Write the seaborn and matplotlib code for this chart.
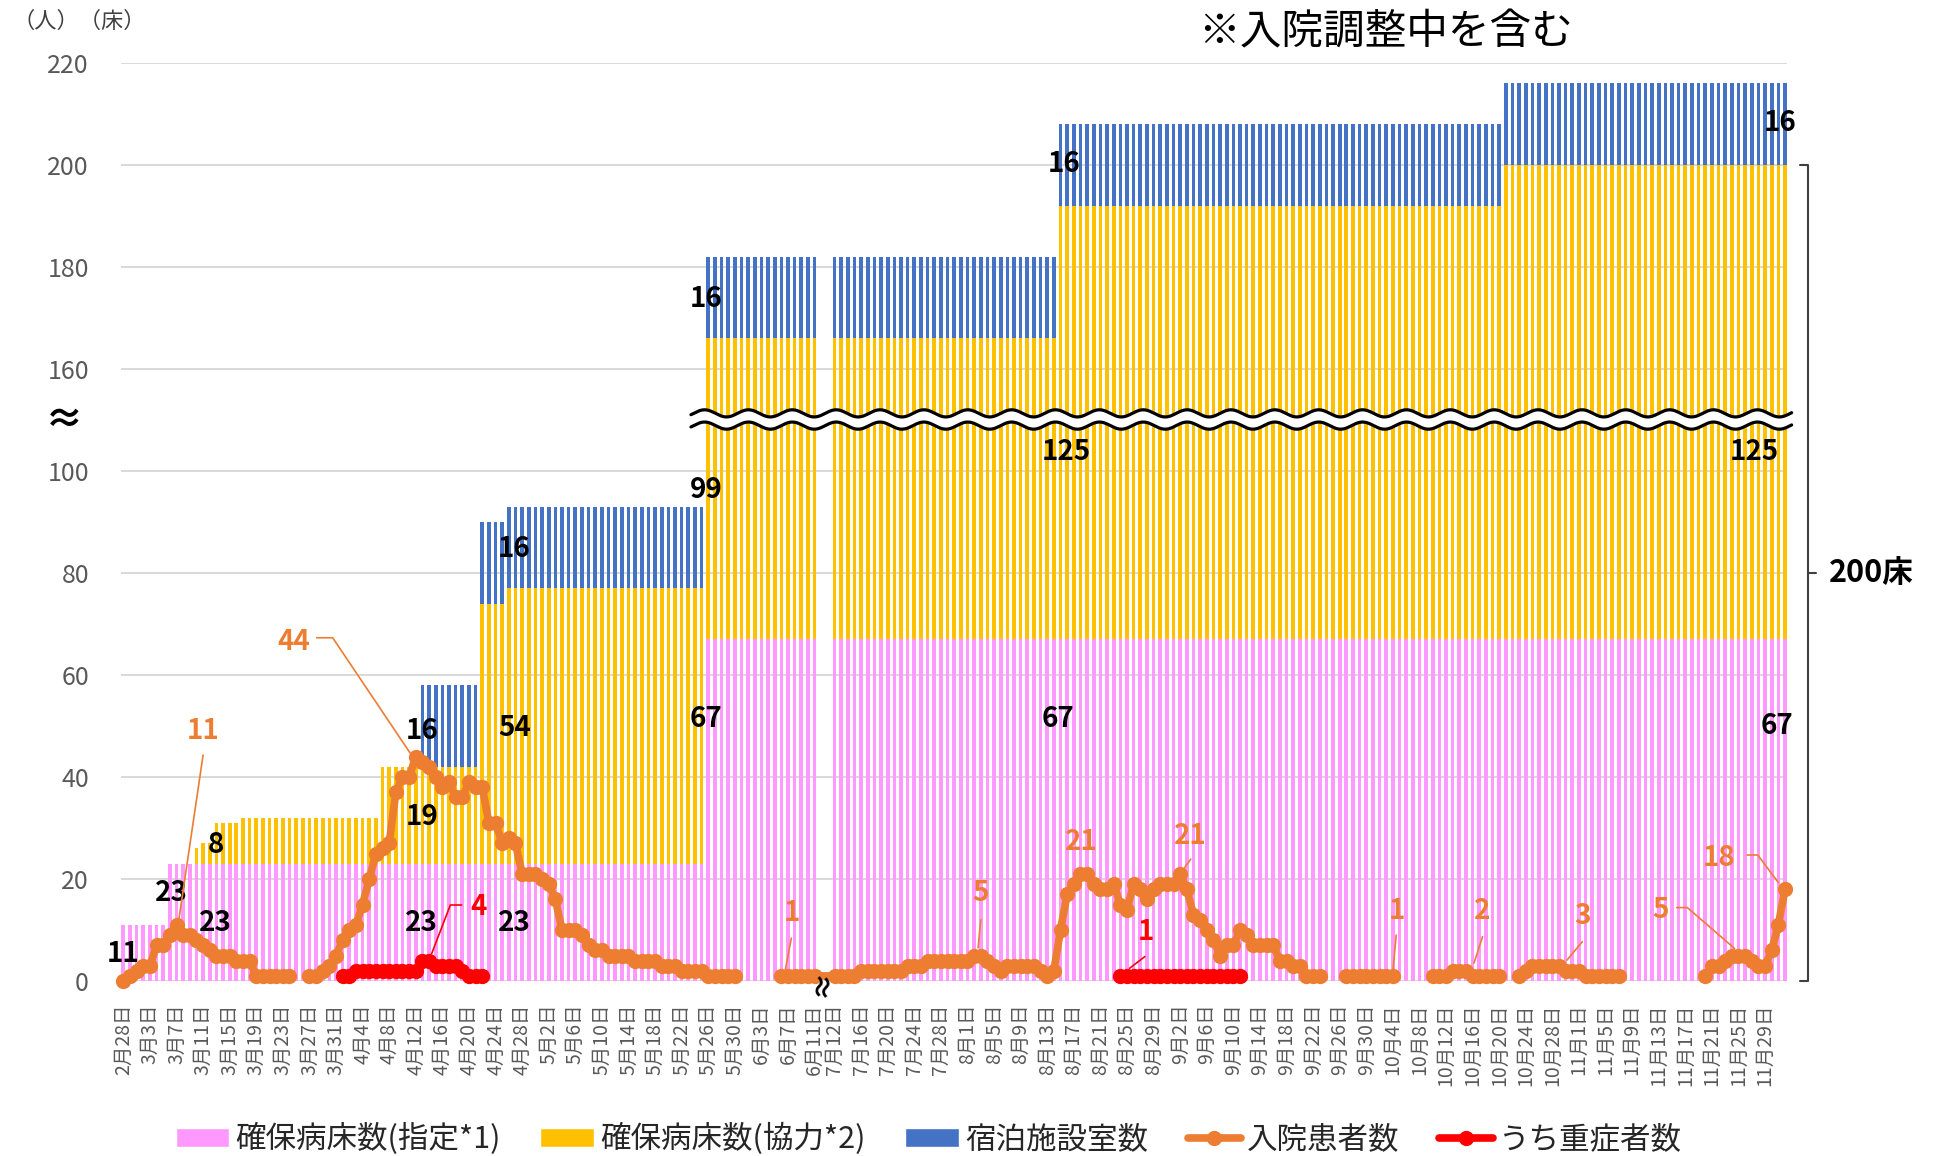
import numpy as np
import pandas as pd
import matplotlib
matplotlib.use("Agg")
import matplotlib.pyplot as plt
import seaborn as sns
from matplotlib.patches import Patch
from matplotlib.lines import Line2D

# ---------------------------------------------------------------- data
SECTION1 = ("2020-02-28", "2020-06-11")
SECTION2 = ("2020-07-12", "2020-12-02")
GAP_SLOTS = 2  # empty slots shown between the two date ranges (≈)

# step changes (date, count)
PINK_STEPS = [("2020-02-28", 11), ("2020-03-06", 23), ("2020-05-26", 67)]
YELLOW_STEPS = [("2020-02-28", 0), ("2020-03-10", 3), ("2020-03-11", 4),
                ("2020-03-13", 8), ("2020-03-17", 9), ("2020-04-07", 19),
                ("2020-04-22", 51), ("2020-04-26", 54), ("2020-05-26", 99),
                ("2020-08-15", 125), ("2020-10-21", 133)]
BLUE_STEPS = [("2020-02-28", 0), ("2020-04-13", 16)]

N = None
INPATIENTS_1 = [0, 1, 2, 3, 3, 7, 7, 9, 11, 9,
                9, 8, 7, 6, 5, 5, 5, 4, 4, 4,
                1, 1, 1, 1, 1, 1, N, N, 1, 1,
                2, 3, 5, 8, 10, 11, 15, 20, 25, 26,
                27, 37, 40, 40, 44, 43, 42, 40, 38, 39,
                36, 36, 39, 38, 38, 31, 31, 27, 28, 27,
                21, 21, 21, 20, 19, 16, 10, 10, 10, 9,
                7, 6, 6, 5, 5, 5, 5, 4, 4, 4,
                4, 3, 3, 3, 2, 2, 2, 2, 1, 1,
                1, 1, 1, N, N, N, N, N, N, 1,
                1, 1, 1, 1, 1]
INPATIENTS_2 = [1, 1, 1, 1, 2, 2, 2, 2, 2, 2,
                2, 3, 3, 3, 4, 4, 4, 4, 4, 4,
                4, 5, 5, 4, 3, 2, 3, 3, 3, 3,
                3, 2, 1, 2, 10, 17, 19, 21, 21, 19,
                18, 18, 19, 15, 14, 19, 18, 16, 18, 19,
                19, 19, 21, 18, 13, 12, 10, 8, 5, 7,
                7, 10, 9, 7, 7, 7, 7, 4, 4, 3,
                3, 1, 1, 1, N, N, N, 1, 1, 1,
                1, 1, 1, 1, 1, N, N, N, N, N,
                1, 1, 1, 2, 2, 2, 1, 1, 1, 1,
                1, N, N, 1, 2, 3, 3, 3, 3, 3,
                2, 2, 2, 1, 1, 1, 1, 1, 1, N,
                N, N, N, N, N, N, N, N, N, N,
                N, 1, 3, 3, 4, 5, 5, 5, 4, 3,
                3, 6, 11, 18]
SEVERE_1_START = "2020-04-01"
SEVERE_1 = [1, 1, 2, 2, 2, 2, 2, 2, 2, 2, 2, 2, 4, 4, 3, 3, 3, 3, 2, 1, 1, 1]
SEVERE_2_START = "2020-08-24"
SEVERE_2 = [1, 1, 1, 1, 1, 1, 1, 1, 1, 1, 1, 1, 1, 1, 1, 1, 1, 1, 1]

Y_TICK_VALUES = [0, 20, 40, 60, 80, 100, 160, 180, 200, 220]
BREAK_AT, BREAK_SHIFT = 110, 40

LEGEND_LABELS = ["確保病床数(指定*1)", "確保病床数(協力*2)", "宿泊施設室数", "入院患者数", "うち重症者数"]

PINK, YELLOW, BLUE = "#FF99FF", "#FFC000", "#4472C4"
ORANGE, RED = "#ED7D31", "#FF0000"

# ---------------------------------------------------------------- style
sns.set_style("white")
plt.rcParams["font.family"] = ["Noto Sans CJK JP", "DejaVu Sans"]


def brk(v):
    v = np.asarray(v, dtype=float)
    return np.where(v > BREAK_AT, v - BREAK_SHIFT, v)


def build_days(start, end, offset):
    d = pd.date_range(start, end, freq="D")
    return pd.DataFrame({"date": d, "x": offset + np.arange(len(d))})


days1 = build_days(*SECTION1, 0)
days2 = build_days(*SECTION2, len(days1) + GAP_SLOTS)
days = pd.concat([days1, days2], ignore_index=True)


def steps_to_series(steps):
    s = pd.Series({pd.Timestamp(d): v for d, v in steps}).sort_index()
    return s.reindex(days["date"], method="ffill").to_numpy(dtype=float)


days["pink"] = steps_to_series(PINK_STEPS)
days["yellow"] = steps_to_series(YELLOW_STEPS)
days["blue"] = steps_to_series(BLUE_STEPS)
days["inpatient"] = pd.array(INPATIENTS_1 + INPATIENTS_2, dtype="Float64").astype(float)


def sparse_series(start, vals):
    idx = pd.date_range(start, periods=len(vals), freq="D")
    s = pd.Series(vals, index=idx, dtype=float)
    return s.reindex(days["date"]).to_numpy()


sev1 = sparse_series(SEVERE_1_START, SEVERE_1)
sev2 = sparse_series(SEVERE_2_START, SEVERE_2)
days["severe"] = np.where(np.isnan(sev1), sev2, sev1)

days["top_pink"] = brk(days["pink"])
days["top_yellow"] = brk(days["pink"] + days["yellow"])
days["top_blue"] = brk(days["pink"] + days["yellow"] + days["blue"])

# ---------------------------------------------------------------- figure
fig = plt.figure(figsize=(19.35, 11.56), dpi=100)
ax = fig.add_axes([121 / 1935, 1 - 981 / 1156, 1666 / 1935, 918 / 1156])

bar_kw = dict(x="x", native_scale=True, orient="x", width=0.55, saturation=1,
              errorbar=None, linewidth=0, ax=ax)
sns.barplot(data=days[days["blue"] > 0], y="top_blue", color=BLUE, **bar_kw)
sns.barplot(data=days[days["yellow"] > 0], y="top_yellow", color=YELLOW, **bar_kw)
sns.barplot(data=days, y="top_pink", color=PINK, **bar_kw)

LINE_W, MARK_S = 5.5, 11


def draw_line(col, color):
    d = days[["x", col]].copy()
    d["seg"] = d[col].isna().cumsum()
    d = d.dropna()
    sns.lineplot(data=d, x="x", y=col, units="seg", estimator=None, sort=True,
                 color=color, linewidth=LINE_W, marker="o", markersize=MARK_S,
                 markeredgewidth=0, legend=False, ax=ax)


draw_line("inpatient", ORANGE)
draw_line("severe", RED)
for ln in ax.lines:
    ln.set_clip_on(False)
    ln.set_zorder(4)
    ln.set_linewidth(LINE_W)
    ln.set_markersize(MARK_S)

# axes
ax.set_xlim(-0.35, 250.3)
ax.set_ylim(0, float(brk(220)))
ax.set_xlabel("")
ax.set_ylabel("")
for s in ax.spines.values():
    s.set_visible(False)
ax.set_axisbelow(True)
ax.yaxis.grid(True, color="#D9D9D9", linewidth=1.4)
ax.xaxis.grid(False)
ax.set_yticks(brk(Y_TICK_VALUES))
ax.set_yticklabels([str(v) for v in Y_TICK_VALUES])
ax.tick_params(axis="y", length=0, pad=23, labelsize=18, labelcolor="#595959")

tick_rows = pd.concat([days1.iloc[::4], days2.iloc[::4]])
ax.set_xticks(tick_rows["x"].to_numpy())
ax.set_xticklabels([f"{d.month}月{d.day}日" for d in tick_rows["date"]],
                   rotation=90, va="top", ha="center")
ax.tick_params(axis="x", length=0, pad=16, labelsize=14, labelcolor="#595959")

# axis break (wavy white band)
wx = np.linspace(85.4, 251.0, 3000)
wave = 0.7 * np.sin(2 * np.pi * wx / 6.6)
ax.fill_between(wx, 108.9 + wave, 111.3 + wave, color="white", zorder=5, clip_on=False, lw=0)
ax.plot(wx, 111.3 + wave, color="black", lw=2.3, zorder=5, clip_on=False)
ax.plot(wx, 108.9 + wave, color="black", lw=2.3, zorder=5, clip_on=False)

# data labels (bar capacities)
black_labels = [("11", 0.0, 5.3), ("23", 7.25, 17.2), ("23", 13.9, 11.4), ("8", 13.9, 26.6),
                ("16", 44.9, 49.1), ("19", 44.9, 32.2), ("23", 44.9, 11.4),
                ("16", 58.85, 84.7), ("54", 58.85, 49.6), ("23", 58.85, 11.4),
                ("99", 87.65, 96.3), ("16", 87.65, 133.8), ("67", 87.65, 51.3),
                ("67", 140.6, 51.3), ("125", 141.9, 103.8), ("16", 141.5, 160.2),
                ("16", 249.2, 168.2), ("125", 245.4, 103.8), ("67", 248.8, 50.0)]
for t, x, y in black_labels:
    ax.text(x, y, t, ha="center", va="center", fontsize=20, fontweight="bold",
            color="black", zorder=6, clip_on=False)

# line labels with leader lines
line_labels = [
    ("44", 25.6, 66.5, ORANGE, [(29.1, 67.3), (31.5, 67.3), (43.2, 44.6)]),
    ("11", 12.0, 49.1, ORANGE, [(12.0, 44.3), (8.27, 11.3)]),
    ("4", 53.4, 14.5, RED, [(50.9, 14.9), (49.2, 14.9), (46.4, 5.4)]),
    ("1", 100.6, 13.3, ORANGE, [(100.5, 8.4), (99.6, 2.2)]),
    ("5", 129.0, 17.2, ORANGE, [(129.0, 12.0), (128.6, 6.5)]),
    ("21", 144.2, 27.3, ORANGE, []),
    ("21", 160.6, 28.5, ORANGE, [(160.6, 23.9), (159.7, 22.3)]),
    ("1", 153.8, 9.6, RED, [(153.7, 4.8), (151.4, 2.5)]),
    ("1", 191.6, 13.7, ORANGE, [(191.5, 9.0), (191.0, 1.8)]),
    ("2", 204.4, 13.7, ORANGE, [(204.5, 8.7), (203.2, 3.5)]),
    ("3", 219.6, 12.7, ORANGE, [(219.5, 7.7), (217.2, 4.1)]),
    ("5", 231.2, 13.9, ORANGE, [(233.7, 14.4), (235.3, 14.4), (242.4, 6.4)]),
    ("18", 240.1, 24.1, ORANGE, [(244.3, 24.7), (245.9, 24.7), (249.0, 19.3)]),
]
for t, x, y, c, leader in line_labels:
    ax.text(x, y, t, ha="center", va="center", fontsize=20, fontweight="bold",
            color=c, zorder=6, clip_on=False)
    if leader:
        lx, ly = zip(*leader)
        ax.plot(lx, ly, color=c, lw=1.2, zorder=6, clip_on=False)

# x-axis gap mark
ax.text(105.3, -0.6, "≈", rotation=80, ha="center", va="center", fontsize=20,
        fontweight="bold", color="black", zorder=7, clip_on=False)

# right bracket "200床"
bx = 253.45
ax.plot([252.25, bx, bx, 252.25], [float(brk(200)), float(brk(200)), 0, 0],
        color="#404040", lw=1.5, clip_on=False)
ax.plot([bx, 254.65], [80, 80], color="#404040", lw=1.5, clip_on=False)
ax.text(256.6, 80, "200床", ha="left", va="center", fontsize=22, fontweight="bold",
        color="black", clip_on=False)

# figure texts
fig.text(1385 / 1935, 1 - 33 / 1156, "※入院調整中を含む", ha="center", va="center",
         fontsize=30, color="black")
fig.text(12 / 1935, 1 - 21 / 1156, "（人）（床）", ha="left", va="center",
         fontsize=16, color="#404040")
fig.text(64 / 1935, 1 - 421 / 1156, "≈", ha="center", va="center", fontsize=28,
         fontweight="bold", color="black")

# legend
handles = [Patch(facecolor=PINK), Patch(facecolor=YELLOW), Patch(facecolor=BLUE),
           Line2D([0], [0], color=ORANGE, lw=LINE_W, marker="o", markersize=MARK_S, markeredgewidth=0),
           Line2D([0], [0], color=RED, lw=LINE_W, marker="o", markersize=MARK_S, markeredgewidth=0)]
fig.legend(handles, LEGEND_LABELS, loc="center", bbox_to_anchor=(0.480, 0.0147),
           ncol=5, frameon=False, fontsize=22, handlelength=1.75, handleheight=0.6,
           handletextpad=0.2, columnspacing=1.3)

fig.savefig("out.png", dpi=100)
